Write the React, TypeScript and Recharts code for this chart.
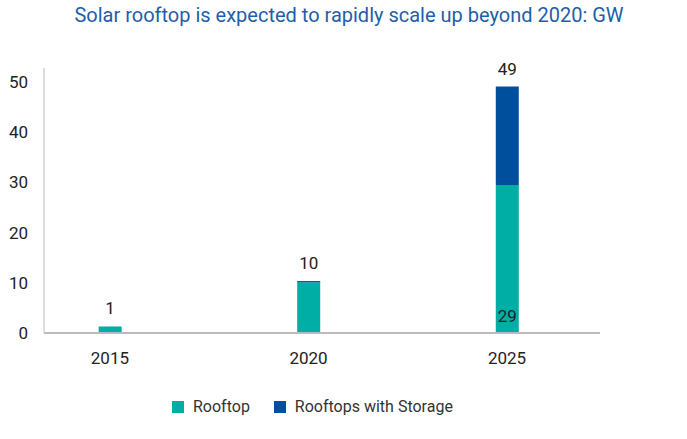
import { BarChart, Bar, XAxis, YAxis, LabelList } from 'recharts'

const years = [2015, 2020, 2025]
const rooftop = [1.3, 10.1, 29.5]
const storage = [0, 0.25, 19.6]
const totalLabels = ['1', '10', '49']
const rooftopLabels = ['', '', '29']
const yTicks = [0, 10, 20, 30, 40, 50]

const TEAL = '#00aea6'
const NAVY = '#004f9c'
const FONT = '"Liberation Sans Narrow", "Arial Narrow", Roboto, sans-serif'

const data = years.map((year, i) => ({
  year,
  rooftop: rooftop[i],
  storage: storage[i],
  total: totalLabels[i],
  inside: rooftopLabels[i],
}))

const legendItems = [
  { name: 'Rooftop', color: TEAL },
  { name: 'Rooftops with Storage', color: NAVY },
]

// the rooftop bar carries the "29" inside, and the total when there is no storage on top
function RooftopLabel(props: any) {
  const { x, y, width, height, index } = props
  const cx = x + width / 2
  return (
    <g>
      {rooftopLabels[index] && (
        <text x={cx} y={y + height - 11} textAnchor="middle" fill="#222" fontSize={17} fontFamily={FONT}>
          {rooftopLabels[index]}
        </text>
      )}
      {storage[index] === 0 && (
        <text x={cx} y={y - 12} textAnchor="middle" fill="#222" fontSize={17} fontFamily={FONT}>
          {totalLabels[index]}
        </text>
      )}
    </g>
  )
}

export default function App() {
  return (
    <div style={{ position: 'absolute', left: 0, top: 0, width: 687, height: 439, background: '#fff' }}>
      <div
        style={{
          position: 'absolute',
          top: 3,
          left: 0,
          width: 698,
          textAlign: 'center',
          fontFamily: FONT,
          fontSize: 20,
          color: '#1f5ea8',
        }}
      >
        Solar rooftop is expected to rapidly scale up beyond 2020: GW
      </div>
      <BarChart width={687} height={439} data={data} margin={{ top: 68, right: 87, bottom: 66, left: 0 }}>
        <XAxis
          dataKey="year"
          type="number"
          domain={[2013.34, 2027.34]}
          ticks={years}
          allowDataOverflow
          tickLine={false}
          axisLine={{ stroke: '#bbbbbb', strokeWidth: 2 }}
          tick={{ fill: '#222', fontSize: 17, fontFamily: FONT }}
          tickMargin={13}
          height={40}
        />
        <YAxis
          domain={[0, 52.8]}
          ticks={yTicks}
          allowDataOverflow
          width={44}
          tickLine={false}
          axisLine={{ stroke: '#bbbbbb', strokeWidth: 1 }}
          tick={{ fill: '#222', fontSize: 17, fontFamily: FONT }}
          tickMargin={10}
        />
        <Bar dataKey="rooftop" stackId="a" fill={TEAL} barSize={23} isAnimationActive={false}>
          <LabelList dataKey="inside" content={<RooftopLabel />} />
        </Bar>
        <Bar dataKey="storage" stackId="a" fill={NAVY} barSize={23} isAnimationActive={false}>
          <LabelList dataKey="total" position="top" offset={12} fill="#222" fontSize={17} fontFamily={FONT} />
        </Bar>
      </BarChart>
      <div
        style={{
          position: 'absolute',
          top: 397,
          left: 172,
          display: 'flex',
          fontFamily: FONT,
          fontSize: 16,
          color: '#333',
        }}
      >
        {legendItems.map((item, i) => (
          <div key={item.name} style={{ display: 'flex', alignItems: 'center', marginLeft: i ? 24 : 0 }}>
            <span style={{ width: 12, height: 12, background: item.color, display: 'inline-block', marginRight: 9 }} />
            <span>{item.name}</span>
          </div>
        ))}
      </div>
    </div>
  )
}
